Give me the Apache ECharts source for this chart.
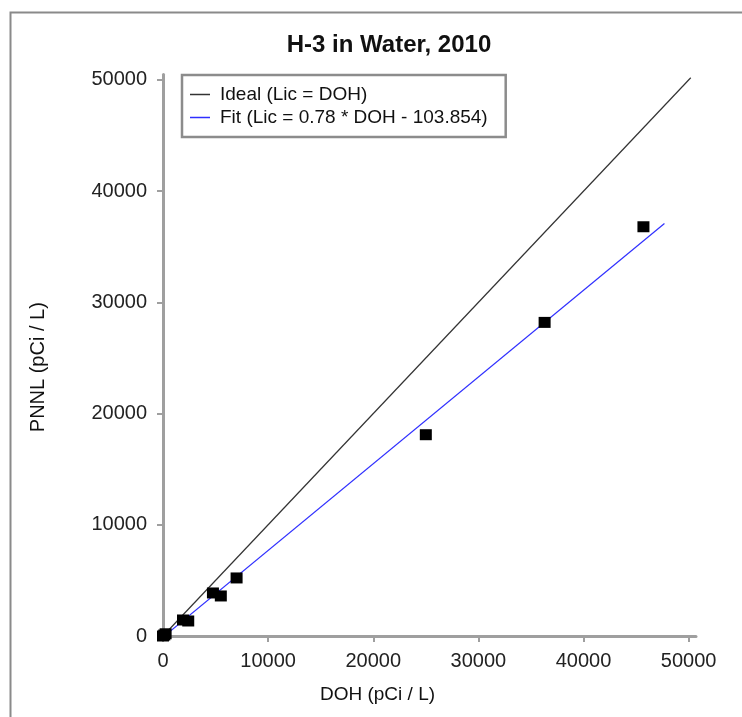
<!DOCTYPE html>
<html>
<head>
<meta charset="utf-8">
<script src="https://cdn.jsdelivr.net/npm/echarts@6/dist/echarts.min.js"></script>
<style>
html,body{margin:0;padding:0;background:#fff;}
#chart{width:742px;height:717px;}
</style>
</head>
<body>
<div id="chart"></div>
<script>
// ---- data ----
const doh  = [0, 120, 250, 1900, 2400, 4750, 5500, 7000, 25000, 36300, 45700];
const pnnl = [0, 90, 200, 1440, 1350, 3870, 3600, 5220, 18100, 28200, 36800];
const idealX = [0, 50200];
const idealY = [0, 50200];
const fitX = [0, 47700];
const fitY = [-104, 37100];
const tickValues = [0, 10000, 20000, 30000, 40000, 50000];
const titleText = 'H-3 in Water, 2010';
const idealName = 'Ideal (Lic = DOH)';
const fitName = 'Fit (Lic = 0.78 * DOH - 103.854)';
const xName = 'DOH (pCi / L)';
const yName = 'PNNL (pCi / L)';

const FONT = '"Liberation Sans", Arial, sans-serif';
const pts = doh.map((x, i) => [x, pnnl[i]]);
const ideal = idealX.map((x, i) => [x, idealY[i]]);
const fit = fitX.map((x, i) => [x, fitY[i]]);

const chart = echarts.init(document.getElementById('chart'), null, {renderer: 'canvas'});
const axisColor = '#9f9f9f';
const plain = v => String(v);
chart.setOption({
  backgroundColor: '#fff',
  animation: false,
  textStyle: {fontFamily: FONT},
  title: {
    text: titleText,
    left: 384, top: 28, textAlign: 'center',
    textStyle: {fontFamily: FONT, fontSize: 24, fontWeight: 'bold', color: '#111'}
  },
  graphic: [{
    type: 'rect', left: 8, top: 10, z: -10,
    shape: {width: 780, height: 760},
    style: {fill: 'none', stroke: '#8a8a8a', lineWidth: 2}
  }],
  legend: {
    orient: 'vertical', left: 182, top: 75,
    data: [idealName, fitName],
    icon: 'rect',
    itemWidth: 20, itemHeight: 1.5, itemGap: 4,
    padding: [10, 18, 10, 8],
    borderColor: '#8c8c8c', borderWidth: 2.5,
    backgroundColor: '#fff',
    textStyle: {fontFamily: FONT, fontSize: 19, color: '#111', padding: [0, 0, 0, 5]}
  },
  grid: {left: 163, right: 46, top: 74.4, bottom: 81, containLabel: false},
  xAxis: {
    type: 'value', min: 0, max: 50700, interval: 10000,
    name: xName, nameLocation: 'middle', nameGap: 49,
    nameTextStyle: {fontFamily: FONT, fontSize: 19, color: '#111', padding: [0, 104, 0, 0]},
    axisLine: {show: true, onZero: false, lineStyle: {color: axisColor, width: 3}},
    axisTick: {show: true, length: 6, customValues: tickValues, lineStyle: {color: axisColor, width: 2}},
    axisLabel: {customValues: tickValues, formatter: plain, fontFamily: FONT, fontSize: 20, color: '#222', margin: 15},
    splitLine: {show: false}
  },
  yAxis: {
    type: 'value', min: 0, max: 50500, interval: 10000,
    name: yName, nameLocation: 'middle', nameGap: 115, nameRotate: 90,
    nameTextStyle: {fontFamily: FONT, fontSize: 20, color: '#111', padding: [0, 24, 0, 0]},
    axisLine: {show: true, onZero: false, lineStyle: {color: axisColor, width: 3}},
    axisTick: {show: true, length: 6, customValues: tickValues, lineStyle: {color: axisColor, width: 2}},
    axisLabel: {customValues: tickValues, formatter: plain, fontFamily: FONT, fontSize: 20, color: '#222', margin: 16},
    splitLine: {show: false}
  },
  series: [
    {
      name: idealName, type: 'line', data: ideal, symbol: 'none', z: 2,
      lineStyle: {color: '#333333', width: 1.2}, itemStyle: {color: '#333333'}
    },
    {
      name: fitName, type: 'line', data: fit, symbol: 'none', z: 3,
      lineStyle: {color: '#2f2fff', width: 1.2}, itemStyle: {color: '#2f2fff'}
    },
    {
      name: 'Data', type: 'scatter', data: pts, symbol: 'rect', symbolSize: [12, 11], z: 5,
      itemStyle: {color: '#000', opacity: 1}
    }
  ]
});
</script>
</body>
</html>
